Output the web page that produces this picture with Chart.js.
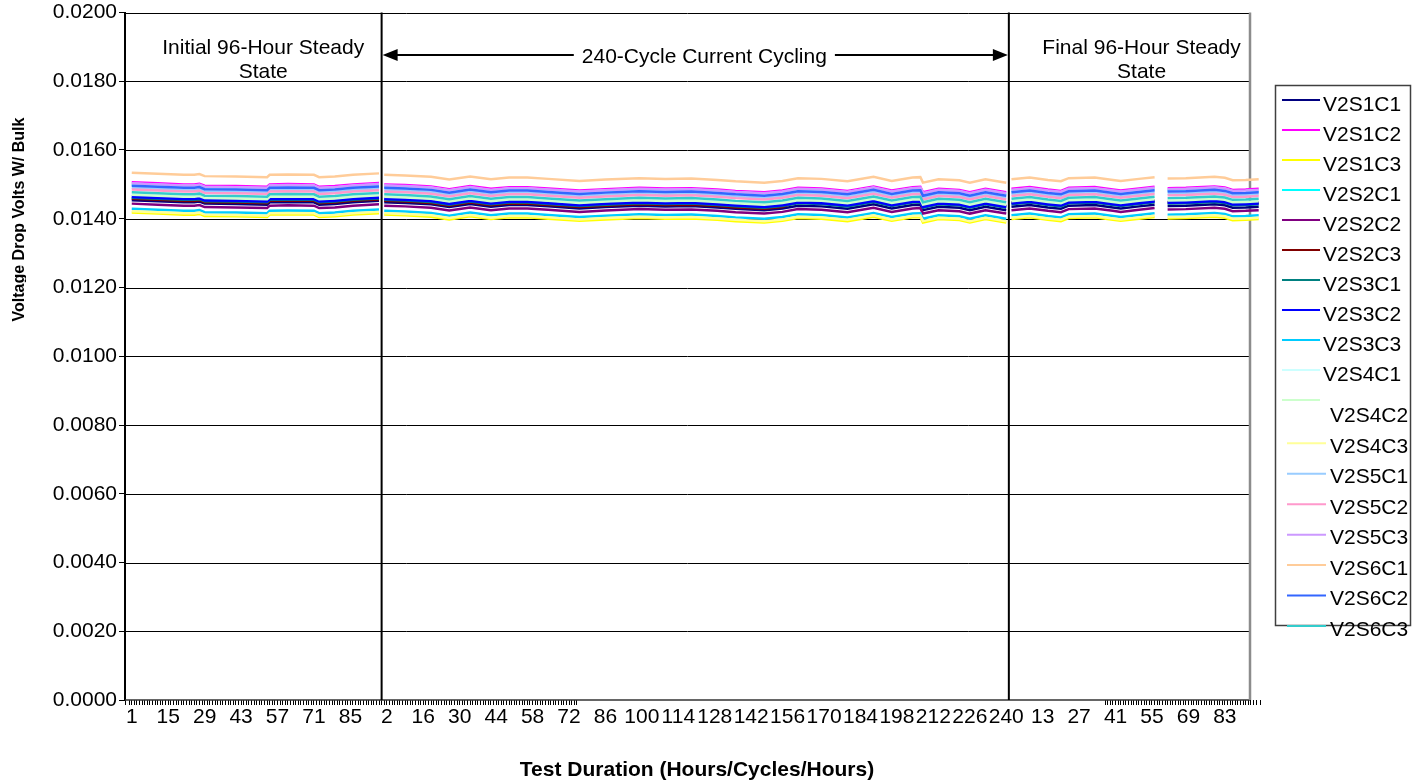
<!DOCTYPE html>
<html>
<head>
<meta charset="utf-8">
<script src="https://cdn.jsdelivr.net/npm/chart.js@4.4.1/dist/chart.umd.min.js"></script>
<style>
html,body{margin:0;padding:0;background:#fff;}
#wrap{width:1424px;height:784px;position:relative;}
</style>
</head>
<body>
<div id="wrap"><canvas id="c" width="1424" height="784"></canvas></div>
<script>
// ---- categories / tick labels ----
// x positions are category indices: 0-95 = hours 1-96, 96 = break, 97-336 = cycles 1-240, 337 = break, 338-433 = hours 1-96
const xTickLabels = ['1','15','29','43','57','71','85','2','16','30','44','58','72','86','100','114','128','142','156','170','184','198','212','226','240','13','27','41','55','69','83'];
const sampleIdx = [0,10,20,24,26,28,40,52,53,60,70,72,78,85,95,96,
  97,105,115,122,130,138,145,152,160,172,182,195,205,215,225,232,243,250,256,265,275,285,292,300,303,304,310,318,322,328,336,337,
  338,345,352,357,360,370,377,380,387,393,394,398,405,416,420,423,428,433];
const seriesNames = ['V2S1C1','V2S1C2','V2S1C3','V2S2C1','V2S2C2','V2S2C3','V2S3C1','V2S3C2','V2S3C3','V2S4C1','V2S4C2','V2S4C3','V2S5C1','V2S5C2','V2S5C3','V2S6C1','V2S6C2','V2S6C3'];
const phaseTexts = [['Initial 96-Hour Steady','State'],['240-Cycle Current Cycling'],['Final 96-Hour Steady','State']];

// ---- series values (volts) ----
const V2S1C1 = [0.01454,0.01451,0.01448,0.01448,0.01450,0.01444,0.01443,0.01441,0.01448,0.01449,0.01448,0.01441,0.01443,0.01448,0.01452,null,
0.01448,0.01446,0.01442,0.01434,0.01443,0.01435,0.01440,0.01440,0.01436,0.01430,0.01434,0.01438,0.01436,0.01437,0.01433,0.01429,0.01425,0.01430,0.01438,0.01436,0.01429,0.01442,0.01430,0.01440,0.01441,0.01425,0.01435,0.01432,0.01425,0.01435,0.01425,null,
0.01435,0.01440,0.01433,0.01429,0.01438,0.01440,0.01433,0.01430,0.01436,0.01441,null,0.01437,0.01438,0.01442,0.01439,0.01432,0.01433,0.01435];
const V2S1C2 = [0.01506,0.01503,0.01500,0.01500,0.01502,0.01496,0.01495,0.01493,0.01500,0.01501,0.01500,0.01493,0.01495,0.01500,0.01504,null,
0.01500,0.01498,0.01494,0.01486,0.01495,0.01487,0.01492,0.01492,0.01488,0.01482,0.01486,0.01490,0.01488,0.01489,0.01485,0.01481,0.01477,0.01482,0.01490,0.01488,0.01481,0.01494,0.01482,0.01492,0.01493,0.01477,0.01487,0.01484,0.01477,0.01487,0.01477,null,
0.01487,0.01492,0.01485,0.01481,0.01490,0.01492,0.01485,0.01482,0.01488,0.01493,null,0.01489,0.01490,0.01494,0.01491,0.01484,0.01485,0.01487];
const V2S1C3 = [0.01418,0.01415,0.01412,0.01412,0.01414,0.01408,0.01407,0.01405,0.01412,0.01413,0.01412,0.01405,0.01407,0.01412,0.01416,null,
0.01412,0.01410,0.01406,0.01398,0.01407,0.01399,0.01404,0.01404,0.01400,0.01394,0.01398,0.01402,0.01400,0.01401,0.01397,0.01393,0.01389,0.01394,0.01402,0.01400,0.01393,0.01406,0.01394,0.01404,0.01405,0.01389,0.01399,0.01396,0.01389,0.01399,0.01389,null,
0.01399,0.01404,0.01397,0.01393,0.01402,0.01404,0.01397,0.01394,0.01400,0.01405,null,0.01401,0.01402,0.01406,0.01403,0.01396,0.01397,0.01399];
const V2S2C1 = [0.01499,0.01496,0.01493,0.01493,0.01495,0.01489,0.01488,0.01486,0.01493,0.01494,0.01493,0.01486,0.01488,0.01493,0.01497,null,
0.01493,0.01491,0.01487,0.01479,0.01488,0.01480,0.01485,0.01485,0.01481,0.01475,0.01479,0.01483,0.01481,0.01482,0.01478,0.01474,0.01470,0.01475,0.01483,0.01481,0.01474,0.01487,0.01475,0.01485,0.01486,0.01470,0.01480,0.01477,0.01470,0.01480,0.01470,null,
0.01480,0.01485,0.01478,0.01474,0.01483,0.01485,0.01478,0.01475,0.01481,0.01486,null,0.01482,0.01483,0.01487,0.01484,0.01477,0.01478,0.01480];
const V2S2C2 = [0.01444,0.01441,0.01438,0.01438,0.01440,0.01434,0.01433,0.01431,0.01438,0.01439,0.01438,0.01431,0.01433,0.01438,0.01442,null,
0.01438,0.01436,0.01432,0.01424,0.01433,0.01425,0.01430,0.01430,0.01426,0.01420,0.01424,0.01428,0.01426,0.01427,0.01423,0.01419,0.01415,0.01420,0.01428,0.01426,0.01419,0.01432,0.01420,0.01430,0.01431,0.01415,0.01425,0.01422,0.01415,0.01425,0.01415,null,
0.01425,0.01430,0.01423,0.01419,0.01428,0.01430,0.01423,0.01420,0.01426,0.01431,null,0.01427,0.01428,0.01432,0.01429,0.01422,0.01423,0.01425];
const V2S2C3 = [0.01458,0.01455,0.01452,0.01452,0.01454,0.01448,0.01447,0.01445,0.01452,0.01453,0.01452,0.01445,0.01447,0.01452,0.01456,null,
0.01452,0.01450,0.01446,0.01438,0.01447,0.01439,0.01444,0.01444,0.01440,0.01434,0.01438,0.01442,0.01440,0.01441,0.01437,0.01433,0.01429,0.01434,0.01450,0.01448,0.01441,0.01454,0.01442,0.01452,0.01453,0.01437,0.01447,0.01444,0.01437,0.01447,0.01437,null,
0.01447,0.01452,0.01445,0.01441,0.01450,0.01452,0.01445,0.01442,0.01448,0.01453,null,0.01449,0.01450,0.01454,0.01451,0.01444,0.01445,0.01447];
const V2S3C1 = [0.01461,0.01458,0.01455,0.01455,0.01457,0.01451,0.01450,0.01448,0.01455,0.01456,0.01455,0.01448,0.01450,0.01455,0.01459,null,
0.01455,0.01453,0.01449,0.01441,0.01450,0.01442,0.01447,0.01447,0.01443,0.01437,0.01441,0.01445,0.01443,0.01444,0.01440,0.01436,0.01432,0.01437,0.01445,0.01443,0.01436,0.01449,0.01437,0.01447,0.01448,0.01432,0.01442,0.01439,0.01432,0.01442,0.01432,null,
0.01442,0.01447,0.01440,0.01436,0.01445,0.01447,0.01440,0.01437,0.01443,0.01448,null,0.01444,0.01445,0.01449,0.01446,0.01439,0.01440,0.01442];
const V2S3C2 = [0.01464,0.01461,0.01458,0.01458,0.01460,0.01454,0.01453,0.01451,0.01458,0.01459,0.01458,0.01451,0.01453,0.01458,0.01462,null,
0.01458,0.01456,0.01452,0.01444,0.01453,0.01445,0.01450,0.01450,0.01446,0.01440,0.01444,0.01448,0.01446,0.01447,0.01443,0.01439,0.01435,0.01440,0.01448,0.01446,0.01439,0.01452,0.01440,0.01450,0.01451,0.01435,0.01445,0.01442,0.01435,0.01445,0.01435,null,
0.01445,0.01450,0.01443,0.01439,0.01448,0.01450,0.01443,0.01440,0.01446,0.01451,null,0.01447,0.01448,0.01452,0.01449,0.01442,0.01443,0.01445];
const V2S3C3 = [0.01429,0.01426,0.01423,0.01423,0.01425,0.01419,0.01418,0.01416,0.01423,0.01424,0.01423,0.01416,0.01418,0.01423,0.01427,null,
0.01423,0.01421,0.01417,0.01409,0.01418,0.01410,0.01415,0.01415,0.01411,0.01405,0.01409,0.01413,0.01411,0.01412,0.01408,0.01404,0.01400,0.01405,0.01413,0.01411,0.01404,0.01417,0.01405,0.01415,0.01416,0.01400,0.01410,0.01407,0.01400,0.01410,0.01400,null,
0.01410,0.01415,0.01408,0.01404,0.01413,0.01415,0.01408,0.01405,0.01411,0.01416,null,0.01412,0.01413,0.01417,0.01414,0.01407,0.01408,0.01410];
const V2S4C1 = [0.01502,0.01499,0.01496,0.01496,0.01498,0.01492,0.01491,0.01489,0.01496,0.01497,0.01496,0.01489,0.01491,0.01496,0.01500,null,
0.01496,0.01494,0.01490,0.01482,0.01491,0.01483,0.01488,0.01488,0.01484,0.01478,0.01482,0.01486,0.01484,0.01485,0.01481,0.01477,0.01473,0.01478,0.01486,0.01484,0.01477,0.01490,0.01478,0.01488,0.01489,0.01473,0.01483,0.01480,0.01473,0.01483,0.01473,null,
0.01483,0.01488,0.01481,0.01477,0.01486,0.01488,0.01481,0.01478,0.01484,0.01489,null,0.01485,0.01486,0.01490,0.01487,0.01480,0.01481,0.01483];
const V2S4C2 = [0.01470,0.01467,0.01464,0.01464,0.01466,0.01460,0.01459,0.01457,0.01464,0.01465,0.01464,0.01457,0.01459,0.01464,0.01468,null,
0.01464,0.01462,0.01458,0.01450,0.01459,0.01451,0.01456,0.01456,0.01452,0.01446,0.01450,0.01454,0.01452,0.01453,0.01449,0.01445,0.01441,0.01446,0.01454,0.01452,0.01445,0.01458,0.01446,0.01456,0.01457,0.01441,0.01451,0.01448,0.01441,0.01451,0.01441,null,
0.01451,0.01456,0.01449,0.01445,0.01454,0.01456,0.01449,0.01446,0.01452,0.01457,null,0.01453,0.01454,0.01458,0.01455,0.01448,0.01449,0.01451];
const V2S4C3 = [0.01422,0.01419,0.01416,0.01416,0.01418,0.01412,0.01411,0.01409,0.01416,0.01417,0.01416,0.01409,0.01411,0.01416,0.01420,null,
0.01416,0.01414,0.01410,0.01402,0.01411,0.01403,0.01408,0.01408,0.01404,0.01398,0.01402,0.01406,0.01404,0.01405,0.01401,0.01397,0.01393,0.01398,0.01406,0.01404,0.01397,0.01410,0.01398,0.01408,0.01409,0.01393,0.01403,0.01400,0.01393,0.01403,0.01393,null,
0.01403,0.01408,0.01401,0.01397,0.01406,0.01408,0.01401,0.01398,0.01404,0.01409,null,0.01405,0.01406,0.01410,0.01407,0.01400,0.01401,0.01403];
const V2S5C1 = [0.01490,0.01487,0.01484,0.01484,0.01486,0.01480,0.01479,0.01477,0.01484,0.01485,0.01484,0.01477,0.01479,0.01484,0.01488,null,
0.01484,0.01482,0.01478,0.01470,0.01479,0.01471,0.01476,0.01476,0.01472,0.01466,0.01470,0.01474,0.01472,0.01473,0.01469,0.01465,0.01461,0.01466,0.01474,0.01472,0.01465,0.01478,0.01466,0.01476,0.01477,0.01461,0.01471,0.01468,0.01461,0.01471,0.01461,null,
0.01471,0.01476,0.01469,0.01465,0.01474,0.01476,0.01469,0.01466,0.01472,0.01477,null,0.01473,0.01474,0.01478,0.01475,0.01468,0.01469,0.01471];
const V2S5C2 = [0.01485,0.01482,0.01479,0.01479,0.01481,0.01475,0.01474,0.01472,0.01479,0.01480,0.01479,0.01472,0.01474,0.01479,0.01483,null,
0.01479,0.01477,0.01473,0.01465,0.01474,0.01466,0.01471,0.01471,0.01467,0.01461,0.01465,0.01469,0.01467,0.01468,0.01464,0.01460,0.01456,0.01461,0.01469,0.01467,0.01460,0.01473,0.01461,0.01471,0.01472,0.01456,0.01466,0.01463,0.01456,0.01466,0.01456,null,
0.01466,0.01471,0.01464,0.01460,0.01469,0.01471,0.01464,0.01461,0.01467,0.01472,null,0.01468,0.01469,0.01473,0.01470,0.01463,0.01464,0.01466];
const V2S5C3 = [0.01503,0.01500,0.01497,0.01497,0.01499,0.01493,0.01492,0.01490,0.01497,0.01498,0.01497,0.01490,0.01492,0.01497,0.01501,null,
0.01497,0.01495,0.01491,0.01483,0.01492,0.01484,0.01489,0.01489,0.01485,0.01479,0.01483,0.01487,0.01485,0.01486,0.01482,0.01478,0.01474,0.01479,0.01487,0.01485,0.01478,0.01491,0.01479,0.01489,0.01490,0.01474,0.01484,0.01481,0.01474,0.01484,0.01474,null,
0.01484,0.01489,0.01482,0.01478,0.01487,0.01489,0.01482,0.01479,0.01485,0.01490,null,0.01486,0.01487,0.01491,0.01488,0.01481,0.01482,0.01484];
const V2S6C1 = [0.01534,0.01531,0.01528,0.01528,0.01530,0.01524,0.01523,0.01521,0.01528,0.01529,0.01528,0.01521,0.01523,0.01528,0.01532,null,
0.01528,0.01526,0.01522,0.01514,0.01523,0.01515,0.01520,0.01520,0.01516,0.01510,0.01514,0.01518,0.01516,0.01517,0.01513,0.01509,0.01505,0.01510,0.01518,0.01516,0.01509,0.01522,0.01510,0.01520,0.01521,0.01505,0.01515,0.01512,0.01505,0.01515,0.01505,null,
0.01515,0.01520,0.01513,0.01509,0.01518,0.01520,0.01513,0.01510,0.01516,0.01521,null,0.01517,0.01518,0.01522,0.01519,0.01512,0.01513,0.01515];
const V2S6C2 = [0.01496,0.01493,0.01490,0.01490,0.01492,0.01486,0.01485,0.01483,0.01490,0.01491,0.01490,0.01483,0.01485,0.01490,0.01494,null,
0.01490,0.01488,0.01484,0.01476,0.01485,0.01477,0.01482,0.01482,0.01478,0.01472,0.01476,0.01480,0.01478,0.01479,0.01475,0.01471,0.01467,0.01472,0.01480,0.01478,0.01471,0.01484,0.01472,0.01482,0.01483,0.01467,0.01477,0.01474,0.01467,0.01477,0.01467,null,
0.01477,0.01482,0.01475,0.01471,0.01480,0.01482,0.01475,0.01472,0.01478,0.01483,null,0.01479,0.01480,0.01484,0.01481,0.01474,0.01475,0.01477];
const V2S6C3 = [0.01477,0.01474,0.01471,0.01471,0.01473,0.01467,0.01466,0.01464,0.01471,0.01472,0.01471,0.01464,0.01466,0.01471,0.01475,null,
0.01471,0.01469,0.01465,0.01457,0.01466,0.01458,0.01463,0.01463,0.01459,0.01453,0.01457,0.01461,0.01459,0.01460,0.01456,0.01452,0.01448,0.01453,0.01461,0.01459,0.01452,0.01465,0.01453,0.01463,0.01464,0.01448,0.01458,0.01455,0.01448,0.01458,0.01448,null,
0.01458,0.01463,0.01456,0.01452,0.01461,0.01463,0.01456,0.01453,0.01459,0.01464,null,0.01460,0.01461,0.01465,0.01462,0.01455,0.01456,0.01458];

const seriesValues = [V2S1C1,V2S1C2,V2S1C3,V2S2C1,V2S2C2,V2S2C3,V2S3C1,V2S3C2,V2S3C3,V2S4C1,V2S4C2,V2S4C3,V2S5C1,V2S5C2,V2S5C3,V2S6C1,V2S6C2,V2S6C3];

// ---- styles ----
const seriesColors = ['#000080','#FF00FF','#FFFF00','#00FFFF','#800080','#800000','#008080','#0000FF','#00CCFF','#CCFFFF','#CCFFCC','#FFFF99','#99CCFF','#FF99CC','#CC99FF','#FFCC99','#3366FF','#33CCCC'];
const seriesWidths = [2.5,2.5,2.5,2.5,2.5,2.5,2.5,3,2.5,2.5,2.5,2.5,2.5,2.5,2.5,2.5,2.5,2.5];
const FONT = "'Liberation Sans', Arial, sans-serif";

const datasets = seriesNames.map((name, i) => ({
  label: name,
  data: sampleIdx.map((x, k) => ({ x: x, y: seriesValues[i][k] })),
  borderColor: seriesColors[i],
  backgroundColor: seriesColors[i],
  borderWidth: seriesWidths[i],
  pointRadius: 0,
  tension: 0,
  spanGaps: false,
  order: 18 - i
}));

const decor = {
  id: 'decor',
  beforeDatasetsDraw(chart) {
    const ctx = chart.ctx, a = chart.chartArea, y = chart.scales.y;
    const rightEdge = a.right - 10;
    ctx.save();
    ctx.strokeStyle = '#000';
    ctx.lineWidth = 1;
    for (let v = 1; v <= 10; v++) {
      const py = Math.round(y.getPixelForValue(v * 0.002)) + 0.5;
      ctx.beginPath(); ctx.moveTo(a.left, py); ctx.lineTo(rightEdge, py); ctx.stroke();
    }
    ctx.strokeStyle = '#333';
    ctx.lineWidth = 1.5;
    ctx.beginPath(); ctx.moveTo(a.left, a.bottom); ctx.lineTo(rightEdge, a.bottom); ctx.stroke();
    ctx.strokeStyle = '#8c8c8c';
    ctx.lineWidth = 2.5;
    ctx.beginPath(); ctx.moveTo(rightEdge, a.top); ctx.lineTo(rightEdge, a.bottom); ctx.stroke();
    ctx.restore();
  },
  afterDatasetsDraw(chart) {
    const ctx = chart.ctx, a = chart.chartArea, x = chart.scales.x;
    const x1 = x.getPixelForValue(96), x2 = x.getPixelForValue(337);
    ctx.save();
    ctx.strokeStyle = '#000';
    ctx.lineWidth = 2;
    [x1, x2].forEach(px => { ctx.beginPath(); ctx.moveTo(px, a.top); ctx.lineTo(px, a.bottom); ctx.stroke(); });
    // phase labels
    ctx.fillStyle = '#000';
    ctx.font = '21px ' + FONT;
    ctx.textAlign = 'center';
    ctx.textBaseline = 'middle';
    const c1 = x.getPixelForValue(50.5), c2 = x.getPixelForValue(220), c3 = x.getPixelForValue(388);
    phaseTexts[0].forEach((t, k) => ctx.fillText(t, c1, 48 + k * 24));
    phaseTexts[2].forEach((t, k) => ctx.fillText(t, c3, 48 + k * 24));
    // double arrow
    const ay = 55;
    ctx.lineWidth = 2;
    ctx.beginPath(); ctx.moveTo(x1 + 4, ay); ctx.lineTo(x2 - 4, ay); ctx.stroke();
    ctx.beginPath(); ctx.moveTo(x1 + 1, ay); ctx.lineTo(x1 + 16, ay - 6); ctx.lineTo(x1 + 16, ay + 6); ctx.closePath(); ctx.fill();
    ctx.beginPath(); ctx.moveTo(x2 - 1, ay); ctx.lineTo(x2 - 16, ay - 6); ctx.lineTo(x2 - 16, ay + 6); ctx.closePath(); ctx.fill();
    const tw = ctx.measureText(phaseTexts[1][0]).width;
    ctx.fillStyle = '#fff';
    ctx.fillRect(c2 - tw / 2 - 8, ay - 12, tw + 16, 26);
    ctx.fillStyle = '#000';
    ctx.fillText(phaseTexts[1][0], c2, 57);
    ctx.restore();
  },
  afterDraw(chart) {
    const ctx = chart.ctx;
    ctx.save();
    // axis titles
    ctx.fillStyle = '#000';
    ctx.font = 'bold 21px ' + FONT;
    ctx.textAlign = 'center';
    ctx.textBaseline = 'alphabetic';
    ctx.fillText('Test Duration (Hours/Cycles/Hours)', 697, 776);
    ctx.save();
    ctx.beginPath(); ctx.rect(0, 0, 26, 784); ctx.clip();
    ctx.translate(24, 219.5);
    ctx.rotate(-Math.PI / 2);
    ctx.font = 'bold 16px ' + FONT;
    ctx.fillText('Voltage Drop Volts W/ Bulk', 0, 0);
    ctx.restore();
    // legend
    ctx.strokeStyle = '#404040';
    ctx.lineWidth = 1.5;
    ctx.strokeRect(1275.5, 85.5, 135, 540);
    ctx.font = '21px ' + FONT;
    ctx.textAlign = 'left';
    chart.data.datasets.forEach((ds, i) => {
      let ly, lx0, lx1, tx, ty;
      if (i <= 9) { ly = 100 + 30 * i; lx0 = 1282; lx1 = 1320; tx = 1323; ty = ly + 11; }
      else if (i === 10) { ly = 400; lx0 = 1282; lx1 = 1320; tx = 1330; ty = 422; }
      else { ly = 443.3 + 30.45 * (i - 11); lx0 = 1287; lx1 = 1326; tx = 1330; ty = ly + 9.5; }
      ctx.strokeStyle = ds.borderColor;
      ctx.lineWidth = 2;
      ctx.beginPath(); ctx.moveTo(lx0, ly); ctx.lineTo(lx1, ly); ctx.stroke();
      ctx.fillStyle = '#000';
      ctx.fillText(ds.label, tx, ty);
    });
    ctx.restore();
  }
};

new Chart(document.getElementById('c'), {
  type: 'line',
  data: { datasets: datasets },
  plugins: [decor],
  options: {
    responsive: false,
    animation: false,
    devicePixelRatio: 1,
    layout: { padding: { top: 12, right: 164, left: 0, bottom: 0 } },
    plugins: { legend: { display: false }, tooltip: { enabled: false } },
    scales: {
      x: {
        type: 'linear', min: -2.6, max: 433.5, position: 'bottom',
        afterFit: s => { s.height = 84; },
        border: { display: false },
        grid: {
          drawOnChartArea: false, drawTicks: true, tickLength: 5, lineWidth: 1,
          color: c => { const v = c.tick ? c.tick.value : 0; return (v <= 171 || v >= 374) ? '#000' : 'rgba(0,0,0,0)'; }
        },
        ticks: {
          stepSize: 1, autoSkip: false, maxRotation: 0, minRotation: 0, padding: 0, color: '#000',
          font: { family: FONT, size: 21 },
          callback: v => {
            if (!Number.isInteger(v) || v < 0 || v % 14 !== 0) return '';
            const k = v / 14;
            return k < xTickLabels.length ? xTickLabels[k] : '';
          }
        }
      },
      y: {
        min: 0, max: 0.02,
        afterFit: s => { s.width = 125; },
        border: { display: true, color: '#000', width: 2 },
        grid: { drawOnChartArea: false, tickLength: 6, color: '#000' },
        ticks: { stepSize: 0.002, padding: 2, color: '#000', font: { family: FONT, size: 21, lineHeight: 1 }, callback: v => v.toFixed(4) }
      }
    }
  }
});
</script>
</body>
</html>
